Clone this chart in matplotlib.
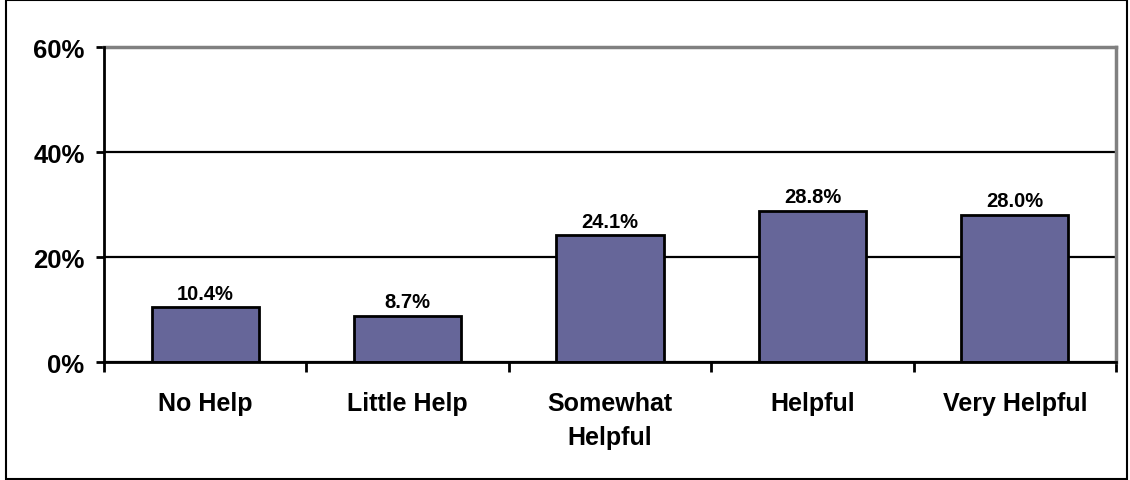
import matplotlib
matplotlib.use("Agg")
import matplotlib.pyplot as plt
from matplotlib.patches import Rectangle
from matplotlib.ticker import FuncFormatter, FixedLocator
import numpy as np

categories = ["No Help", "Little Help", "Somewhat\nHelpful", "Helpful", "Very Helpful"]
shares = [10.4, 8.7, 24.1, 28.8, 28.0]
y_ticks = [0, 20, 40, 60]

BAR = "#666699"
GREY = "#808080"

plt.rcParams.update({
    "font.family": ["Liberation Sans", "DejaVu Sans"],
    "font.weight": "bold",
})

fig = plt.figure(figsize=(11.3, 4.81), dpi=100)
ax = fig.add_axes([0.092, 0.2453, 0.8956, 0.6549])

x = np.arange(len(categories))
bars = ax.bar(x, shares, width=0.53, color=BAR, edgecolor="black", linewidth=2, zorder=3)
for b, v in zip(bars, shares):
    ax.annotate(f"{v:.1f}%", (b.get_x() + b.get_width() / 2, v), xytext=(0, 3.5),
                textcoords="offset points", ha="center", va="bottom",
                fontsize=14.5, fontweight="bold")

ax.set_xlim(-0.5, len(categories) - 0.5)
ax.set_ylim(0, 60)
ax.yaxis.set_major_locator(FixedLocator(y_ticks))
ax.yaxis.set_major_formatter(FuncFormatter(lambda v, _: f"{v:.0f}%"))
ax.tick_params(axis="y", length=6, width=2, pad=8, labelsize=18.5)

# category labels centred on bars, tick marks between categories
ax.set_xticks(x)
ax.set_xticklabels(categories, fontsize=18, fontweight="bold", linespacing=1.5)
ax.tick_params(axis="x", which="major", length=0, pad=21)
ax.set_xticks(np.arange(-0.5, len(categories)), minor=True)
ax.tick_params(axis="x", which="minor", length=7, width=2, direction="out")
for lbl in ax.get_xticklabels():
    lbl.set_verticalalignment("top")

ax.grid(axis="y", color="black", lw=1.6, zorder=1)
ax.set_axisbelow(True)
for s in ("left", "bottom"):
    ax.spines[s].set_linewidth(2)
    ax.spines[s].set_zorder(4)
for s in ("top", "right"):
    ax.spines[s].set_color(GREY)
    ax.spines[s].set_linewidth(2.5)

# frame round the whole chart
fig.patches.append(Rectangle((0.0055, 0.002), 0.992, 0.995, transform=fig.transFigure,
                             fill=False, edgecolor="black", linewidth=1.5))

fig.savefig("out.png", dpi=100, facecolor="white")
